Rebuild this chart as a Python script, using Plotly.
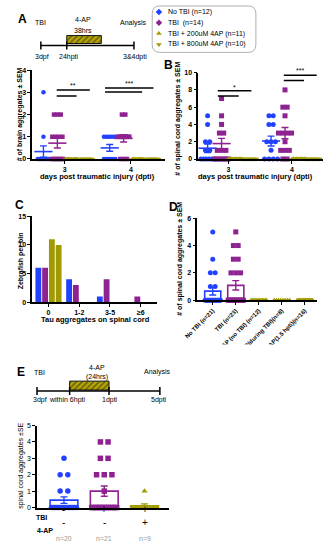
import numpy as np
import plotly.graph_objects as go

W, H = 325, 550
BLUE = "#2242ff"
PURPLE = "#8e2290"
OLIVE = "#a09a00"
FONT = "Liberation Sans, Arial, sans-serif"

# ---------------- DATA ----------------
days = ["3", "4"]
series_names = ["No TBI (n=12)", "TBI  (n=14)", "TBI + 200uM 4AP (n=11)", "TBI + 800uM 4AP (n=10)"]

brain_noTBI_3 = [3, 1] + [0] * 10
brain_noTBI_4 = [1] * 6 + [0] * 6
brain_TBI_3 = [2, 2, 2, 1, 1, 1, 1] + [0] * 7
brain_TBI_4 = [2, 2] + [1] * 9 + [0] * 3
brain_200_3 = [0] * 11
brain_200_4 = [0] * 11
brain_800_3 = [0] * 10
brain_800_4 = [0] * 10

spinal_noTBI_3 = [5, 4, 2, 2, 1, 1] + [0] * 6
spinal_noTBI_4 = [5, 5, 4, 4, 2, 2, 2, 1] + [0] * 4
spinal_TBI_3 = [7, 5, 4, 3, 3, 1, 1, 1] + [0] * 6
spinal_TBI_4 = [8, 6, 6, 5, 3, 3, 3, 3, 2, 1, 1, 1, 0, 0]
spinal_200_3 = [0] * 11
spinal_200_4 = [0] * 11
spinal_800_3 = [0] * 10
spinal_800_4 = [0] * 10

tau_bins = ["0", "1-2", "3-5", "\u22656"]
bins_noTBI = [6, 4, 1, 0]
bins_TBI = [6, 3, 4, 1]
bins_200 = [11, 0, 0, 0]
bins_800 = [10, 0, 0, 0]

D_labels = ["No TBI (n=21)", "TBI (n=23)", "4-AP (no TBI) (n=12)",
            "TBI+ 4-AP(during TBI)(n=8)", "TBI + 4-AP(1.5 hpti)(n=16)"]
D_noTBI = [5, 3, 2, 2, 1, 1] + [0] * 15
D_TBI = [5, 4, 4, 3, 3, 2, 2, 2] + [0] * 15
D_4AP_noTBI = [0] * 12
D_4AP_during = [0] * 8
D_4AP_15 = [0] * 16

E_noTBI = [3, 2, 2, 1, 1] + [0] * 15
E_TBI = [4, 4, 3, 3, 2, 2, 2, 1] + [0] * 13
E_4AP = [1] + [0] * 8
E_row_TBI = ["-", "+", "+"]
E_row_4AP = ["-", "-", "+"]

# ---------------- helpers ----------------
def px(x):
    return x / W


def py(y):
    return 1 - y / H


def sem(v):
    v = np.asarray(v, float)
    return float(v.std(ddof=1) / np.sqrt(len(v))) if len(v) > 1 else 0.0


def swarm(vals, center, step, maxw):
    vals = np.asarray(vals, float)
    xs = np.empty(len(vals))
    for v in np.unique(vals):
        idx = np.where(vals == v)[0]
        k = len(idx)
        sp = step if k <= 1 else min(step, maxw / (k - 1))
        xs[idx] = center + (np.arange(k) - (k - 1) / 2) * sp
    return xs


fig = go.Figure()
colors = [BLUE, PURPLE, OLIVE, OLIVE]
symbols = ["circle", "square", "triangle-up", "triangle-down"]


def dot_panel(xa, ya, data, ppu, offs, step, maxw, msize):
    for s, (vals_by_day, c, sym) in enumerate(zip(data, colors, symbols)):
        xs, ys, mx, my, me = [], [], [], [], []
        for d, vals in enumerate(vals_by_day):
            cen = d + offs[s]
            xs += list(swarm(vals, cen, step / ppu, maxw / ppu))
            ys += list(vals)
            mx.append(cen)
            my.append(float(np.mean(vals)))
            me.append(sem(vals))
        fig.add_trace(go.Scatter(x=xs, y=ys, mode="markers", xaxis=xa, yaxis=ya,
                                 marker=dict(symbol=sym, size=msize, color=c, line=dict(width=0)),
                                 cliponaxis=False, showlegend=False))
        fig.add_trace(go.Scatter(x=mx, y=my, mode="markers", xaxis=xa, yaxis=ya,
                                 marker=dict(symbol="line-ew", size=13, color=c, line=dict(color=c, width=1.6)),
                                 error_y=dict(type="data", array=me, color=c, thickness=1.4, width=3.5),
                                 cliponaxis=False, showlegend=False))


# Panel A
dot_panel("x", "y",
          [[brain_noTBI_3, brain_noTBI_4], [brain_TBI_3, brain_TBI_4],
           [brain_200_3, brain_200_4], [brain_800_3, brain_800_4]],
          69, [-0.32, -0.11, 0.11, 0.32], 3.5, 12, 4.5)
# Panel B
dot_panel("x2", "y2",
          [[spinal_noTBI_3, spinal_noTBI_4], [spinal_TBI_3, spinal_TBI_4],
           [spinal_200_3, spinal_200_4], [spinal_800_3, spinal_800_4]],
          66, [-0.33, -0.11, 0.11, 0.33], 4.5, 14, 5)

# Panel C
for s, (vals, c) in enumerate(zip([bins_noTBI, bins_TBI, bins_200, bins_800], colors)):
    fig.add_trace(go.Bar(x=[i + (-0.33 + 0.22 * s) for i in range(len(tau_bins))], y=vals,
                         width=0.19, marker=dict(color=c, line=dict(width=0)),
                         xaxis="x3", yaxis="y3", showlegend=False))

# Panel D / E bar + dots
def bar_dots(xa, ya, groups, cols, syms, ppu, bw, step, maxw, msize):
    for i, (vals, c) in enumerate(zip(groups, cols)):
        fig.add_trace(go.Bar(x=[i], y=[float(np.mean(vals))], width=bw, xaxis=xa, yaxis=ya,
                             marker=dict(color="rgba(255,255,255,0)", line=dict(color=c, width=1.6)),
                             error_y=dict(type="data", array=[sem(vals)], color=c, thickness=1.4, width=3.5),
                             showlegend=False))
    for i, (vals, c, sym) in enumerate(zip(groups, cols, syms)):
        fig.add_trace(go.Scatter(x=swarm(vals, i, step / ppu, maxw / ppu), y=vals, mode="markers",
                                 xaxis=xa, yaxis=ya, cliponaxis=False, showlegend=False,
                                 marker=dict(symbol=sym, size=msize, color=c, line=dict(width=0))))


bar_dots("x4", "y4", [D_noTBI, D_TBI, D_4AP_noTBI, D_4AP_during, D_4AP_15],
         [BLUE, PURPLE, OLIVE, OLIVE, OLIVE],
         ["circle", "square", "triangle-up", "triangle-up", "triangle-up"], 24, 0.7, 5, 16, 5)
bar_dots("x5", "y5", [E_noTBI, E_TBI, E_4AP], [BLUE, PURPLE, OLIVE],
         ["circle", "square", "triangle-up"], 42, 0.69, 8, 26, 5.5)

# Hatched 4-AP boxes (schematic) on a pixel overlay axis
for (x0, x1, y0, y1) in [(56, 92, 32, 40), (59, 100, 382, 391)]:
    fig.add_trace(go.Bar(x=[(x0 + x1) / 2], y=[y1 - y0], base=[y0], width=[x1 - x0],
                         xaxis="x6", yaxis="y6", showlegend=False,
                         marker=dict(color="#b8a800", line=dict(color="#111", width=1),
                                     pattern=dict(shape="/", fgcolor="#222", bgcolor="#b8a800",
                                                  size=4, solidity=0.45))))
# legend markers
fig.add_trace(go.Scatter(x=[152] * 4, y=[8, 19, 30, 41], mode="markers", xaxis="x6", yaxis="y6",
                         showlegend=False,
                         marker=dict(symbol=["diamond", "diamond", "triangle-up", "triangle-down"],
                                     size=5, color=colors)))

# ---------------- axes ----------------
def ax(dom, rng, **kw):
    d = dict(domain=dom, range=rng, showline=True, linecolor="black", linewidth=1.5,
             ticks="outside", ticklen=3, tickwidth=1.3, tickcolor="black", showgrid=False,
             zeroline=False, tickfont=dict(size=7, family=FONT, color="black", weight="bold"),
             fixedrange=True)
    d.update(kw)
    return d


AX = {
    "x": ([px(20), px(158)], [-0.49, 1.51]),
    "y": ([py(157), py(67)], [0, 4]),
    "x2": ([px(193), px(323)], [-0.477, 1.49]),
    "y2": ([py(157), py(69.5)], [0, 10]),
}

layout = dict(
    width=W, height=H, margin=dict(l=0, r=0, t=0, b=0),
    paper_bgcolor="white", plot_bgcolor="rgba(0,0,0,0)", barmode="overlay",
    font=dict(family=FONT, color="black", size=7),
    xaxis=ax(*AX["x"], tickvals=[0, 1], ticktext=days, anchor="y"),
    yaxis=ax(*AX["y"], tickvals=[0, 1, 2, 3, 4], anchor="x"),
    xaxis2=ax(*AX["x2"], tickvals=[0, 1], ticktext=days, anchor="y2"),
    yaxis2=ax(*AX["y2"], tickvals=[0, 2, 4, 6, 8, 10], anchor="x2"),
    xaxis3=ax([px(20), px(150)], [-0.53, 3.53], tickvals=[0, 1, 2, 3], ticktext=tau_bins, anchor="y3"),
    yaxis3=ax([py(302), py(215)], [0, 15], tickvals=[0, 5, 10, 15], anchor="x3"),
    xaxis4=ax([px(192), px(317)], [-0.67, 4.54], tickvals=list(range(5)), ticktext=D_labels,
              tickangle=-45, anchor="y4",
              tickfont=dict(size=6, family=FONT, color="black", weight="bold")),
    yaxis4=ax([py(300), py(217)], [0, 6], tickvals=[0, 2, 4, 6], anchor="x4"),
    xaxis5=ax([px(25), px(163)], [-0.67, 2.62], showticklabels=False, ticks="", anchor="y5"),
    yaxis5=ax([py(510), py(427)], [0, 5], tickvals=[0, 1, 2, 3, 4, 5], anchor="x5",
              tickfont=dict(size=7, family=FONT, color="black")),
    xaxis6=dict(domain=[0, 1], range=[0, W], visible=False, fixedrange=True, anchor="y6"),
    yaxis6=dict(domain=[0, 1], range=[H, 0], visible=False, fixedrange=True, anchor="x6"),
)
fig.update_layout(**layout)

shapes = []
ann = []


def line(x0, y0, x1, y1, w=1.5, **kw):
    shapes.append(dict(type="line", xref="paper", yref="paper", x0=px(x0), y0=py(y0),
                       x1=px(x1), y1=py(y1), line=dict(color="black", width=w), **kw))


def text(x, y, t, size=7, bold=False, xanchor="center", color="black", angle=0, xref="paper", yref="paper"):
    ann.append(dict(x=px(x) if xref == "paper" else x, y=py(y) if yref == "paper" else y,
                    xref=xref, yref=yref, text=t, showarrow=False, xanchor=xanchor, yanchor="middle",
                    textangle=angle,
                    font=dict(size=size, color=color, family=FONT, weight="bold" if bold else "normal")))


# Schematic A
line(29, 42, 126, 42)
for xx in (29, 56, 126):
    line(xx, 38, xx, 46)
text(10, 15, "A", 12, True)
text(29, 19, "TBI")
text(73, 16, "4-AP")
text(73, 27, "38hrs")
text(126, 19, "Analysis")
text(30, 54, "3dpf")
text(58, 54, "24hpti")
text(127, 54, "3&4dpti")

# Legend box (rounded)
x0, x1, y0, y1, r = px(145), px(253), py(2), py(49), 8
rx, ry = r / W, r / H
path = (f"M {x0+rx},{y0} L {x1-rx},{y0} Q {x1},{y0} {x1},{y0-ry} L {x1},{y1+ry} "
        f"Q {x1},{y1} {x1-rx},{y1} L {x0+rx},{y1} Q {x0},{y1} {x0},{y1+ry} L {x0},{y0-ry} "
        f"Q {x0},{y0} {x0+rx},{y0} Z")
shapes.append(dict(type="path", path=path, xref="paper", yref="paper",
                   line=dict(color="#b0b0b0", width=1)))
for i, nm in enumerate(series_names):
    text(159, 8 + 11 * i, nm, 7, xanchor="left")

# Schematic E
line(25, 392, 153, 392)
for xx in (25, 59, 100, 153):
    line(xx, 388, xx, 396)
text(8, 373, "E", 12, True)
text(28, 373, "TBI")
text(88, 368, "4-AP")
text(88, 378, "(24hrs)")
text(150, 373, "Analysis")
text(28, 401, "3dpf")
text(56, 401, "within 6hpti")
text(101, 401, "1dpti")
text(152, 401, "5dpti")

# Panel letters
text(162, 62, "B", 12, True)
text(7, 204, "C", 12, True)
text(167, 206, "D", 12, True)

# Axis titles
text(7, 112, "# of brain aggregates \u00b1 SEM", 7, True, angle=-90)
text(171, 116, "# of spinal cord aggregates \u00b1 SEM", 7, True, angle=-90)
text(8, 260, "Zebrafish per bin", 7, True, angle=-90)
text(174, 258, "# of spinal cord aggregates \u00b1 SEM", 7, True, angle=-90)
text(8, 468, "spinal cord aggregates \u00b1SE", 7, False, angle=-90)
text(88, 175, "days post traumatic injury (dpti)", 7.5, True)
text(253, 175, "days post traumatic injury (dpti)", 7.5, True)
text(86, 320, "Tau aggregates on spinal cord", 7.5, True)


# Significance bars
def to_paper(axname, v):
    dom, rng = AX[axname]
    return dom[0] + (v - rng[0]) / (rng[1] - rng[0]) * (dom[1] - dom[0])


def sig(xr, yr, xa, xb, yv, label, ly):
    shapes.append(dict(type="line", xref=xr, yref=yr, x0=xa, x1=xb, y0=yv, y1=yv,
                       line=dict(color="black", width=1.5)))
    if label:
        ann.append(dict(x=(xa + xb) / 2, y=to_paper(yr, ly), xref=xr, yref="paper", text=label,
                        showarrow=False, yanchor="middle",
                        font=dict(size=7, family=FONT, color="black")))


sig("x", "y", -0.12, 0.38, 3.11, "**", 3.33)
sig("x", "y", -0.12, 0.18, 2.84, "", 0)
sig("x", "y", 0.61, 1.34, 3.2, "***", 3.42)
sig("x", "y", 0.61, 1.17, 3.02, "", 0)
sig("x2", "y2", -0.17, 0.36, 7.9, "*", 8.3)
sig("x2", "y2", -0.17, 0.16, 7.3, "", 0)
sig("x2", "y2", 0.87, 1.39, 9.7, "***", 10.25)
sig("x2", "y2", 0.87, 1.19, 9.1, "", 0)

# E row labels
text(30, 520, "TBI", 7, True)
text(33, 533, "4-AP", 7, True)
for i in range(3):
    ann.append(dict(x=i, y=py(520), xref="x5", yref="paper", text=E_row_TBI[i], showarrow=False,
                    font=dict(size=10, family=FONT, color="black")))
    ann.append(dict(x=i, y=py(533), xref="x5", yref="paper", text=E_row_4AP[i], showarrow=False,
                    font=dict(size=10, family=FONT, color="black")))
for i, g in enumerate([E_noTBI, E_TBI, E_4AP]):
    ann.append(dict(x=i, y=py(547), xref="x5", yref="paper", text=f"n={len(g)}", showarrow=False,
                    font=dict(size=7, family=FONT, color="#999999")))

# white cover to crop rotated D labels
shapes.append(dict(type="rect", xref="paper", yref="paper", x0=px(164), x1=1, y0=0, y1=py(345),
                   fillcolor="white", line=dict(width=0), layer="above"))

fig.update_layout(shapes=shapes, annotations=ann)
fig.write_html("out.html")
